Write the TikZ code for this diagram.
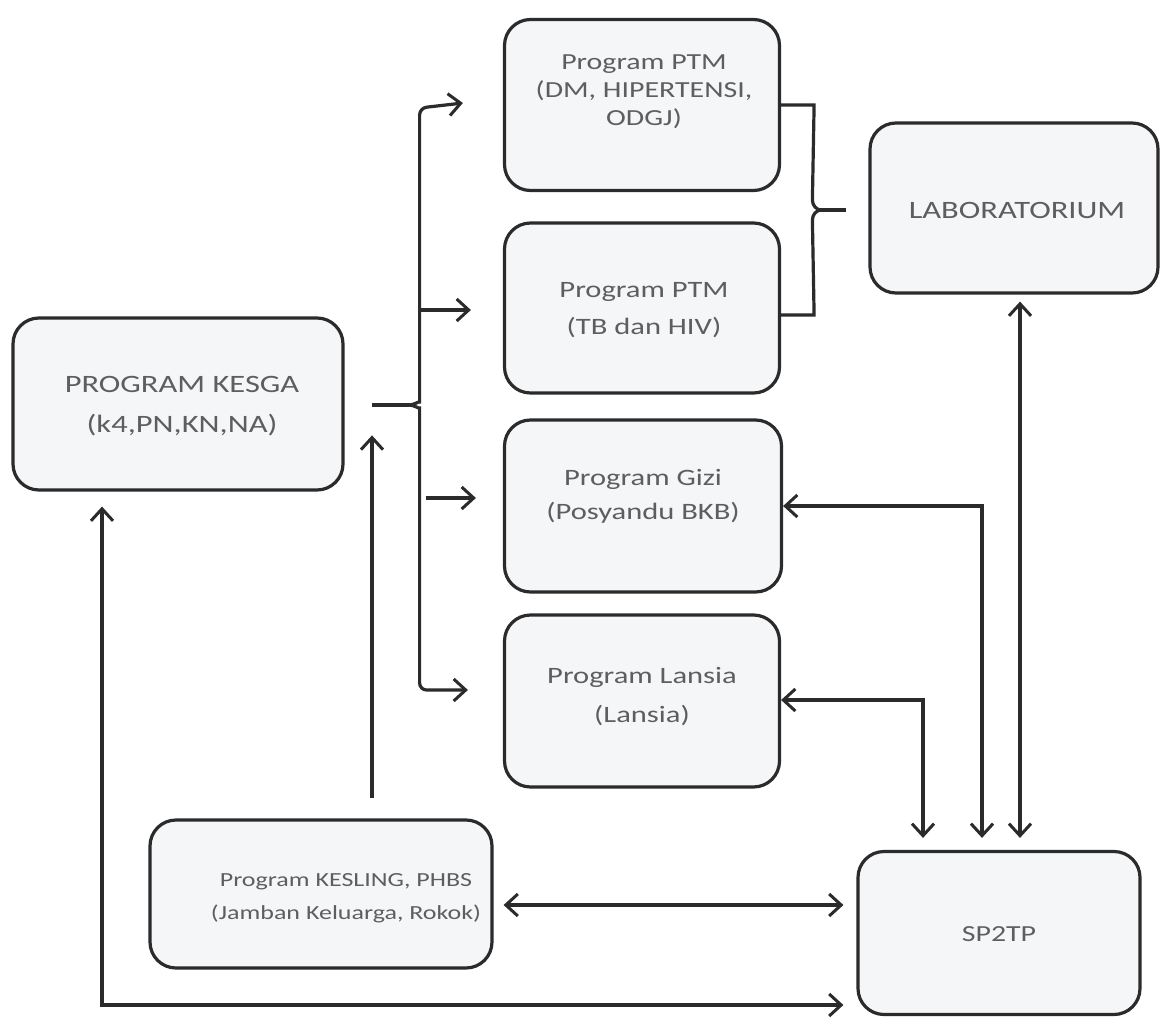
\documentclass[tikz,border=0pt]{standalone}
\usepackage{fontspec}
\setmainfont{Carlito}[FakeStretch=1.3]
\usetikzlibrary{arrows.meta,calc}
\definecolor{linec}{HTML}{2B2B2B}
\definecolor{boxfill}{HTML}{F5F6F8}
\definecolor{textc}{HTML}{5E5E5E}
\tikzset{
  pbox/.style={draw=linec, line width=3.2pt, fill=boxfill, rounded corners=26pt,
    rectangle, inner sep=0pt},
  ptext/.style={align=center, text=textc, inner sep=0pt},
  conn/.style={draw=linec, line width=3.2pt},
  tip/.style={conn, arrows={-Straight Barb[length=12pt,width=22pt,line width=3pt]}},
  tips/.style={conn, arrows={Straight Barb[length=12pt,width=22pt,line width=3pt]-Straight Barb[length=12pt,width=22pt,line width=3pt]}},
}
\begin{document}
\begin{tikzpicture}[x=1pt,y=-1pt]
\useasboundingbox[fill=white] (0,0) rectangle (1164,1019);

% boxes
\node[pbox, minimum width=330pt, minimum height=172pt] (kesga) at (178,404) {};
\node[pbox, minimum width=275pt, minimum height=171pt] (ptm1) at (642,105) {};
\node[pbox, minimum width=275pt, minimum height=170pt] (ptm2) at (642,308) {};
\node[pbox, minimum width=277pt, minimum height=172pt] (gizi) at (643,506) {};
\node[pbox, minimum width=275pt, minimum height=172pt] (lansia) at (642,701) {};
\node[pbox, minimum width=342pt, minimum height=148pt] (kesling) at (321,894) {};
\node[pbox, minimum width=288pt, minimum height=170pt] (lab) at (1014,208) {};
\node[pbox, minimum width=282pt, minimum height=163pt] (sp2tp) at (999,933) {};

% texts
\node[ptext, font=\fontsize{25}{40}\selectfont] (kesgaT) at ($(kesga)+(4,2)$)
  {PROGRAM  KESGA\\(k4,PN,KN,NA)};
\node[ptext, font=\fontsize{23}{28}\selectfont] (ptm1T) at ($(ptm1)+(2,-13)$)
  {Program PTM\\(DM, HIPERTENSI,\\ODGJ)};
\node[ptext, font=\fontsize{23.5}{37}\selectfont] (ptm2T) at ($(ptm2)+(2,2)$)
  {Program PTM\\(TB dan HIV)};
\node[ptext, font=\fontsize{23.5}{34}\selectfont] (giziT) at ($(gizi)+(0,-10)$)
  {Program Gizi\\(Posyandu BKB)};
\node[ptext, font=\fontsize{23.5}{39}\selectfont] (lansiaT) at ($(lansia)+(0,-4)$)
  {Program Lansia\\(Lansia)};
\node[ptext, font=\fontsize{20}{33}\selectfont] (keslingT) at ($(kesling)+(25,4)$)
  {Program KESLING,  PHBS\\(Jamban Keluarga, Rokok)};
\node[ptext, font=\fontsize{25}{30}\selectfont] (labT) at ($(lab)+(3,2)$)
  {LABORATORIUM};
\node[ptext, font=\fontsize{23}{30}\selectfont] (sp2tpT) at ($(sp2tp)+(0,1)$)
  {SP2TP};

% brace from KESGA to the programmes
\coordinate (kout) at ($(kesga.east)+(27,1)$);
\coordinate (knotch) at ($(kesga.east)+(64,1)$);
\draw[conn] (kout) -- (knotch);
\draw[tip, rounded corners=7pt] (knotch) to[out=0,in=-90] ($(knotch)+(11,-10)$)
  -- ($(knotch)+(11,-297)$) -- ($(ptm1.west)+(-40,-2)$);
\draw[tip] ($(knotch)+(11,-95)$) -- ($(ptm2.west)+(-32,2)$);
\draw[tip, rounded corners=7pt] (knotch) to[out=0,in=90] ($(knotch)+(11,10)$)
  -- ($(knotch)+(11,285)$) -- ($(lansia.west)+(-35,-11)$);
\draw[tip] ($(knotch)+(17,93)$) -- ($(gizi.west)+(-27,-8)$);

% KESLING up to KESGA
\draw[tip] ($(kesling.north)+(51,-20)$) -- ($(kesling.north)+(51,-383)$);

% big loop KESGA <-> SP2TP
\draw[tips] ($(kesga.south)+(-76,15)$) |- ($(sp2tp.west)+(-13,72)$);

% KESLING <-> SP2TP
\draw[tips] ($(kesling.east)+(10,11)$) -- ($(sp2tp.west)+(-13,-28)$);

% PTM bracket to laboratorium
\coordinate (lnotch) at ($(lab.west)+(-47,2)$);
\draw[conn] (ptm1.east) -- ($(ptm1.east)+(33,0)$) -- ($(lnotch)+(-9,-10)$)
  to[out=-90,in=180] (lnotch);
\draw[conn] ($(ptm2.east)+(0,7)$) -- ($(ptm2.east)+(33,7)$) -- ($(lnotch)+(-9,10)$)
  to[out=90,in=180] (lnotch);
\draw[conn] (lnotch) -- ($(lab.west)+(-22,2)$);

% right side connections to SP2TP
\draw[tips] (gizi.east) -| ($(sp2tp.north)+(-17,-12)$);
\draw[tips] ($(lansia.east)+(0,-1)$) -| ($(sp2tp.north)+(-76,-12)$);
\draw[tips] ($(lab.south)+(6,7)$) -- ($(sp2tp.north)+(21,-12)$);
\end{tikzpicture}
\end{document}
